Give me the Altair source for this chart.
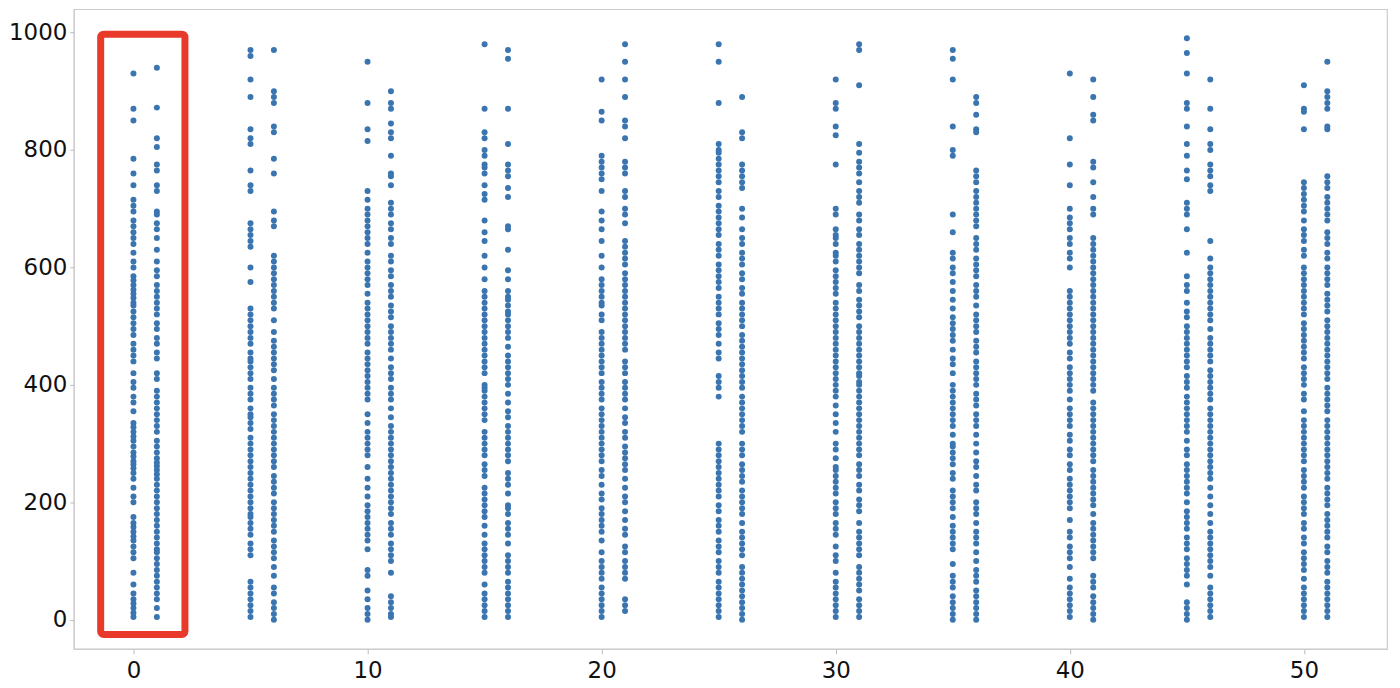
import altair as alt
import pandas as pd

# x positions of the point columns
xs = [0, 1, 5, 6, 10, 11, 15, 16, 20, 21, 25, 26, 30, 31, 35, 36, 40, 41, 45, 46, 50, 51]

c0 = [930, 870, 850, 785, 760, 740, 715, 705, 695, 680, 670, 660, 650, 640, 625, 610, 600, 585, 578, 570, 562, 555, 548, 540, 535, 525, 515, 505, 495, 485, 470, 460, 450, 440, 420, 405, 395, 380, 370, 355, 335, 328, 320, 312, 305, 295, 285, 278, 270, 265, 258, 250, 240, 225, 210, 200, 175, 165, 158, 150, 142, 135, 125, 115, 105, 80, 60, 45, 35, 28, 20, 12, 5]
c1 = [940, 872, 820, 805, 775, 765, 740, 730, 695, 690, 675, 665, 650, 630, 610, 595, 585, 570, 560, 550, 540, 530, 520, 505, 495, 480, 470, 455, 445, 420, 410, 390, 380, 370, 360, 350, 340, 330, 320, 305, 295, 285, 275, 268, 262, 255, 248, 240, 230, 220, 210, 200, 190, 180, 170, 160, 150, 140, 130, 120, 115, 105, 95, 85, 75, 65, 55, 45, 35, 20, 5]
c5 = [970, 960, 920, 890, 835, 820, 810, 765, 740, 730, 675, 665, 655, 645, 635, 600, 575, 530, 520, 510, 500, 490, 480, 470, 455, 445, 440, 430, 420, 410, 395, 385, 375, 360, 350, 345, 335, 325, 310, 300, 290, 280, 270, 260, 250, 240, 230, 220, 210, 200, 190, 180, 175, 165, 155, 145, 130, 120, 110, 65, 55, 45, 35, 25, 15, 5]
c6 = [970, 900, 890, 880, 840, 830, 785, 760, 695, 680, 670, 620, 610, 600, 590, 580, 570, 560, 550, 540, 530, 510, 490, 475, 465, 455, 445, 435, 425, 410, 395, 385, 375, 365, 350, 340, 330, 320, 310, 300, 290, 280, 270, 260, 245, 235, 225, 215, 200, 190, 180, 170, 160, 150, 135, 125, 115, 105, 90, 75, 55, 45, 30, 20, 10, 0]
c10 = [950, 880, 835, 815, 730, 715, 700, 690, 680, 670, 660, 650, 640, 625, 610, 600, 590, 580, 570, 555, 540, 530, 520, 510, 500, 490, 480, 470, 455, 445, 435, 425, 415, 405, 395, 385, 375, 350, 335, 320, 310, 300, 290, 280, 260, 240, 225, 210, 195, 185, 175, 165, 155, 145, 135, 120, 85, 75, 50, 35, 20, 10, 0]
c11 = [900, 880, 870, 845, 830, 820, 790, 760, 755, 740, 710, 700, 690, 675, 665, 650, 640, 620, 610, 595, 585, 570, 560, 550, 535, 525, 515, 500, 490, 480, 470, 460, 445, 430, 420, 410, 395, 385, 375, 360, 345, 330, 320, 310, 300, 290, 280, 270, 260, 250, 240, 230, 220, 210, 200, 190, 180, 165, 155, 145, 130, 120, 110, 100, 80, 40, 30, 20, 10, 5]
c15 = [980, 870, 830, 820, 800, 790, 775, 770, 760, 740, 725, 715, 680, 660, 645, 620, 600, 580, 560, 550, 540, 530, 520, 510, 500, 490, 480, 470, 460, 450, 440, 430, 420, 400, 395, 390, 380, 370, 360, 350, 340, 320, 310, 300, 290, 280, 265, 255, 245, 225, 215, 205, 195, 185, 175, 160, 145, 130, 120, 110, 100, 90, 80, 60, 45, 35, 25, 15, 5]
c16 = [970, 955, 870, 810, 775, 765, 755, 735, 720, 670, 665, 630, 595, 580, 560, 550, 545, 535, 525, 520, 510, 500, 490, 480, 465, 450, 440, 430, 420, 410, 400, 385, 370, 355, 345, 330, 320, 310, 300, 290, 280, 270, 250, 240, 230, 215, 195, 190, 180, 165, 155, 145, 130, 110, 100, 90, 80, 65, 55, 45, 35, 25, 15, 5]
c20 = [920, 865, 850, 790, 780, 770, 760, 750, 730, 695, 680, 665, 645, 620, 600, 580, 570, 560, 550, 540, 535, 520, 510, 490, 480, 470, 460, 450, 440, 430, 420, 405, 395, 385, 375, 360, 350, 340, 330, 320, 310, 300, 290, 280, 270, 255, 245, 230, 215, 205, 190, 180, 170, 160, 150, 135, 115, 100, 90, 80, 70, 55, 45, 35, 25, 15, 5]
c21 = [980, 950, 920, 890, 850, 840, 820, 780, 770, 760, 730, 720, 700, 690, 675, 645, 635, 625, 615, 605, 590, 580, 570, 560, 550, 540, 530, 520, 510, 500, 490, 480, 470, 460, 440, 430, 420, 405, 395, 385, 375, 360, 345, 335, 320, 310, 295, 285, 275, 265, 255, 240, 225, 210, 200, 185, 170, 155, 145, 125, 115, 100, 90, 80, 70, 35, 25, 15]
c25 = [980, 950, 880, 810, 800, 795, 785, 775, 765, 755, 745, 730, 720, 705, 695, 685, 675, 665, 655, 640, 630, 620, 605, 595, 585, 575, 565, 550, 540, 530, 520, 505, 495, 485, 470, 455, 445, 415, 405, 395, 380, 300, 290, 280, 270, 260, 250, 240, 230, 220, 210, 195, 185, 170, 160, 150, 135, 125, 115, 100, 90, 80, 65, 55, 45, 35, 25, 15, 5]
c26 = [890, 830, 820, 775, 765, 755, 745, 735, 700, 685, 665, 650, 640, 625, 615, 605, 590, 580, 565, 555, 540, 530, 520, 510, 500, 485, 475, 465, 455, 445, 435, 425, 415, 405, 395, 380, 370, 360, 350, 340, 330, 320, 300, 290, 280, 265, 255, 245, 235, 220, 210, 200, 190, 180, 165, 150, 140, 130, 120, 110, 90, 80, 70, 60, 50, 40, 30, 20, 10, 0]
c30 = [920, 880, 870, 840, 825, 775, 700, 690, 665, 655, 650, 640, 625, 620, 610, 595, 585, 575, 565, 555, 540, 530, 520, 510, 500, 490, 480, 470, 460, 450, 440, 430, 420, 410, 400, 390, 380, 365, 350, 335, 320, 300, 290, 275, 260, 255, 245, 235, 225, 215, 200, 190, 180, 165, 155, 145, 125, 110, 100, 80, 65, 55, 45, 35, 25, 15, 5]
c31 = [980, 970, 910, 810, 795, 780, 770, 760, 745, 730, 720, 710, 690, 680, 665, 655, 640, 630, 620, 610, 600, 590, 570, 560, 545, 535, 525, 515, 500, 490, 480, 470, 460, 450, 440, 430, 420, 415, 405, 400, 390, 380, 370, 360, 350, 340, 330, 320, 310, 300, 290, 280, 265, 255, 245, 230, 220, 205, 195, 185, 165, 150, 140, 130, 120, 110, 90, 80, 70, 60, 50, 35, 25, 15, 5]
c35 = [970, 955, 920, 840, 800, 790, 690, 660, 625, 615, 600, 590, 575, 560, 545, 530, 515, 505, 495, 485, 475, 460, 445, 435, 420, 400, 390, 380, 370, 360, 350, 340, 330, 315, 300, 295, 285, 275, 265, 250, 240, 220, 210, 200, 190, 175, 160, 150, 140, 130, 120, 95, 75, 65, 55, 40, 30, 20, 10, 0]
c36 = [890, 880, 860, 835, 830, 765, 755, 745, 730, 720, 710, 700, 690, 680, 670, 650, 640, 630, 615, 605, 595, 585, 570, 560, 550, 535, 520, 510, 500, 490, 475, 465, 455, 440, 430, 420, 410, 400, 385, 375, 365, 350, 340, 330, 315, 300, 285, 270, 260, 245, 230, 220, 200, 190, 180, 165, 150, 140, 130, 115, 100, 85, 75, 65, 50, 40, 30, 20, 10, 0]
c40 = [930, 820, 775, 740, 700, 685, 675, 665, 650, 640, 625, 615, 600, 560, 550, 540, 530, 520, 510, 500, 490, 480, 470, 455, 445, 430, 420, 410, 400, 390, 375, 360, 350, 340, 330, 315, 305, 290, 280, 265, 255, 240, 230, 220, 210, 200, 190, 170, 150, 140, 125, 115, 105, 90, 70, 55, 45, 35, 25, 15, 5]
c41 = [920, 890, 860, 850, 780, 770, 745, 720, 700, 690, 650, 640, 630, 620, 610, 600, 590, 580, 570, 560, 550, 540, 530, 520, 510, 500, 490, 480, 470, 460, 450, 440, 430, 420, 410, 400, 390, 370, 360, 350, 340, 330, 320, 310, 300, 290, 280, 270, 255, 245, 235, 225, 215, 205, 195, 180, 165, 155, 145, 135, 125, 115, 105, 75, 65, 55, 40, 30, 20, 10, 0]
c45 = [990, 965, 930, 880, 870, 840, 810, 790, 765, 750, 710, 700, 690, 665, 625, 585, 570, 560, 540, 525, 515, 500, 490, 480, 470, 460, 450, 440, 430, 415, 405, 395, 380, 370, 360, 350, 340, 330, 320, 305, 290, 280, 265, 255, 245, 235, 225, 215, 200, 185, 175, 165, 155, 140, 130, 120, 105, 95, 85, 75, 60, 30, 20, 10, 0]
c46 = [920, 870, 835, 810, 800, 775, 765, 755, 740, 730, 645, 615, 600, 590, 580, 570, 560, 550, 540, 530, 520, 510, 495, 480, 470, 460, 450, 440, 425, 415, 405, 395, 385, 375, 360, 350, 340, 330, 320, 310, 300, 290, 280, 270, 260, 250, 240, 225, 210, 195, 180, 165, 150, 140, 130, 120, 110, 100, 90, 75, 55, 45, 35, 25, 15, 5]
c50 = [910, 870, 865, 835, 745, 735, 725, 715, 705, 695, 680, 665, 655, 645, 630, 620, 600, 590, 580, 570, 560, 550, 540, 530, 520, 505, 495, 485, 475, 465, 455, 445, 430, 420, 410, 400, 385, 375, 355, 340, 330, 320, 310, 300, 290, 280, 270, 255, 245, 235, 225, 210, 200, 190, 180, 165, 155, 140, 130, 115, 105, 95, 85, 70, 55, 45, 35, 25, 15, 5]
c51 = [950, 900, 890, 880, 870, 840, 835, 755, 745, 735, 720, 710, 700, 690, 680, 660, 650, 640, 625, 615, 600, 590, 580, 570, 555, 545, 535, 525, 510, 500, 490, 480, 470, 460, 450, 440, 430, 420, 410, 395, 385, 375, 365, 355, 340, 330, 320, 310, 300, 290, 280, 270, 260, 250, 240, 225, 215, 205, 195, 180, 170, 160, 150, 140, 125, 115, 100, 90, 80, 65, 55, 45, 35, 25, 15, 5]

columns = [c0, c1, c5, c6, c10, c11, c15, c16, c20, c21, c25, c26,
           c30, c31, c35, c36, c40, c41, c45, c46, c50, c51]

x_ticks = [0, 10, 20, 30, 40, 50]
y_ticks = [0, 200, 400, 600, 800, 1000]
x_domain = [-2.55, 53.55]
y_domain = [-49.5, 1039.5]

# highlight box (annotation) around the first pair of columns
box_x = [-1.4]
box_x2 = [2.2]
box_y = [-25]
box_y2 = [997]

rows = []
for xv, col in zip(xs, columns):
    for yv in col:
        rows.append({"x": xv, "y": yv})
df = pd.DataFrame(rows)
box_df = pd.DataFrame({"x": box_x, "x2": box_x2, "y": box_y, "y2": box_y2})

xscale = alt.Scale(domain=x_domain, nice=False, zero=False)
yscale = alt.Scale(domain=y_domain, nice=False, zero=False)

points = alt.Chart(df).mark_circle(size=36, opacity=1, color="#3a75b0").encode(
    x=alt.X("x:Q", scale=xscale,
            axis=alt.Axis(values=x_ticks, format="d", title=None, grid=False,
                          labelFontSize=23, tickSize=5, labelPadding=6,
                          tickColor="#bbbbbb", domainColor="#cccccc",
                          labelColor="#111111", labelFont="DejaVu Sans")),
    y=alt.Y("y:Q", scale=yscale,
            axis=alt.Axis(values=y_ticks, format="d", title=None, grid=False,
                          labelFontSize=23, tickSize=4, labelPadding=3,
                          tickColor="#bbbbbb", domainColor="#cccccc",
                          labelColor="#111111", labelFont="DejaVu Sans")),
)

box = alt.Chart(box_df).mark_rect(filled=False, stroke="#e8392b", strokeWidth=7,
                                  cornerRadius=3).encode(
    x=alt.X("x:Q", scale=xscale), x2="x2:Q",
    y=alt.Y("y:Q", scale=yscale), y2="y2:Q",
)

chart = alt.layer(points, box).properties(
    width=1318, height=642,
    padding={"left": 0, "top": 0, "right": 5, "bottom": 5},
    background="white",
).configure_view(stroke="#cccccc", strokeWidth=1.2)

chart.save("out.html", embed_options={"renderer": "svg", "actions": False})
